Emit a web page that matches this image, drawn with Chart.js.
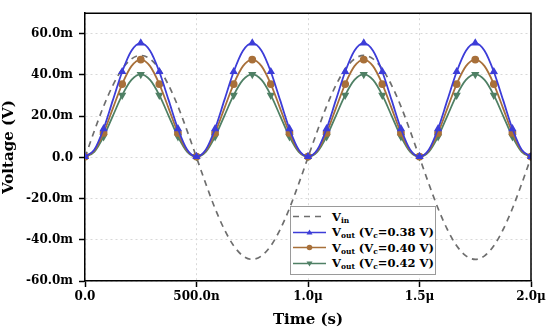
<!DOCTYPE html>
<html>
<head>
<meta charset="utf-8">
<script src="https://cdn.jsdelivr.net/npm/chart.js@4/dist/chart.umd.min.js"></script>
<style>
  html, body { margin: 0; padding: 0; background: #fff; }
  #wrap { position: relative; width: 550px; height: 331px; }
  #legend {
    position: absolute; left: 290px; top: 206px; width: 146px; height: 69px;
    border: 1px solid #9a9a9a; background: #fff; box-sizing: border-box;
    font-family: "DejaVu Serif", serif; font-weight: bold; font-size: 11.5px; color: #000;
    padding-top: 2px;
  }
  .row { display: flex; align-items: center; height: 15.5px; white-space: nowrap; }
  .row svg { margin-left: 2px; margin-right: 6px; flex: none; }
  sub { font-size: 7.5px; vertical-align: -2px; line-height: 0; }
</style>
</head>
<body>
<div id="wrap">
  <canvas id="c" width="550" height="331"></canvas>
  <div id="legend"></div>
</div>
<script>
// time in microseconds
const timeUs = [0, 0.0417, 0.0833, 0.125, 0.1667, 0.2083, 0.25, 0.2917, 0.3333, 0.375, 0.4167, 0.4583,
  0.5, 0.5417, 0.5833, 0.625, 0.6667, 0.7083, 0.75, 0.7917, 0.8333, 0.875, 0.9167, 0.9583,
  1.0, 1.0417, 1.0833, 1.125, 1.1667, 1.2083, 1.25, 1.2917, 1.3333, 1.375, 1.4167, 1.4583,
  1.5, 1.5417, 1.5833, 1.625, 1.6667, 1.7083, 1.75, 1.7917, 1.8333, 1.875, 1.9167, 1.9583, 2.0];

// voltages in mV
const vin = [0, 12.8, 24.8, 35.0, 42.9, 47.8, 49.5, 47.8, 42.9, 35.0, 24.8, 12.8,
  0, -12.8, -24.8, -35.0, -42.9, -47.8, -49.5, -47.8, -42.9, -35.0, -24.8, -12.8,
  0, 12.8, 24.8, 35.0, 42.9, 47.8, 49.5, 47.8, 42.9, 35.0, 24.8, 12.8,
  0, -12.8, -24.8, -35.0, -42.9, -47.8, -49.5, -47.8, -42.9, -35.0, -24.8, -12.8, 0];

const vout038 = [0.4, 3.7, 13.9, 27.8, 41.6, 51.8, 55.5, 51.8, 41.6, 27.8, 13.9, 3.7,
  0.4, 3.7, 13.9, 27.8, 41.6, 51.8, 55.5, 51.8, 41.6, 27.8, 13.9, 3.7,
  0.4, 3.7, 13.9, 27.8, 41.6, 51.8, 55.5, 51.8, 41.6, 27.8, 13.9, 3.7,
  0.4, 3.7, 13.9, 27.8, 41.6, 51.8, 55.5, 51.8, 41.6, 27.8, 13.9, 3.7, 0.4];

const vout040 = [0.4, 3.2, 11.9, 23.8, 35.6, 44.3, 47.5, 44.3, 35.6, 23.8, 11.9, 3.2,
  0.4, 3.2, 11.9, 23.8, 35.6, 44.3, 47.5, 44.3, 35.6, 23.8, 11.9, 3.2,
  0.4, 3.2, 11.9, 23.8, 35.6, 44.3, 47.5, 44.3, 35.6, 23.8, 11.9, 3.2,
  0.4, 3.2, 11.9, 23.8, 35.6, 44.3, 47.5, 44.3, 35.6, 23.8, 11.9, 3.2, 0.4];

const vout042 = [0.4, 2.7, 10.1, 20.2, 30.2, 37.6, 40.3, 37.6, 30.2, 20.2, 10.1, 2.7,
  0.4, 2.7, 10.1, 20.2, 30.2, 37.6, 40.3, 37.6, 30.2, 20.2, 10.1, 2.7,
  0.4, 2.7, 10.1, 20.2, 30.2, 37.6, 40.3, 37.6, 30.2, 20.2, 10.1, 2.7,
  0.4, 2.7, 10.1, 20.2, 30.2, 37.6, 40.3, 37.6, 30.2, 20.2, 10.1, 2.7, 0.4];

const xTickValues = [0, 0.5, 1.0, 1.5, 2.0];
const xTickLabels = ["0.0", "500.0n", "1.0\u03bc", "1.5\u03bc", "2.0\u03bc"];
const yTickValues = [-60, -40, -20, 0, 20, 40, 60];
const yTickLabels = ["-60.0m", "-40.0m", "-20.0m", "0.0", "20.0m", "40.0m", "60.0m"];

const seriesNames = ["V<sub>in</sub>", "V<sub>out</sub> (V<sub>c</sub>=0.38 V)", "V<sub>out</sub> (V<sub>c</sub>=0.40 V)", "V<sub>out</sub> (V<sub>c</sub>=0.42 V)"];

const COL_VIN = "#6e6e6e";
const COL_B = "#3d3dd8";
const COL_R = "#a8703a";
const COL_G = "#4f8065";

function pts(ys) { return ys.map((y, i) => ({ x: timeUs[i], y: y })); }
const markerRadius = ctx => (ctx.dataIndex % 2 === 0 ? 3 : 0);

const framePlugin = {
  id: 'frame',
  afterDraw(chart) {
    const { ctx, chartArea: a } = chart;
    ctx.save();
    ctx.strokeStyle = '#000';
    ctx.lineWidth = 1.5;
    ctx.beginPath();
    ctx.moveTo(a.left, a.top);
    ctx.lineTo(a.right, a.top);
    ctx.lineTo(a.right, a.bottom);
    ctx.stroke();
    ctx.restore();
  }
};

const tickFont = { family: "'DejaVu Serif', serif", weight: 'bold', size: 12 };
const titleFont = { family: "'DejaVu Serif', serif", weight: 'bold', size: 15 };

new Chart(document.getElementById('c'), {
  type: 'line',
  data: {
    datasets: [
      { label: 'Vin', data: pts(vin), borderColor: COL_VIN, borderWidth: 1.7, borderDash: [6, 5],
        pointRadius: 0, cubicInterpolationMode: 'monotone', order: 4 },
      { label: 'Vout 0.42', data: pts(vout042), borderColor: COL_G, backgroundColor: COL_G, borderWidth: 1.8,
        pointStyle: 'triangle', rotation: 180, pointRadius: markerRadius, cubicInterpolationMode: 'monotone', order: 3 },
      { label: 'Vout 0.40', data: pts(vout040), borderColor: COL_R, backgroundColor: COL_R, borderWidth: 1.8,
        pointStyle: 'circle', pointRadius: markerRadius, cubicInterpolationMode: 'monotone', order: 2 },
      { label: 'Vout 0.38', data: pts(vout038), borderColor: COL_B, backgroundColor: COL_B, borderWidth: 1.8,
        pointStyle: 'triangle', pointRadius: markerRadius, cubicInterpolationMode: 'monotone', order: 1 }
    ]
  },
  options: {
    responsive: false,
    animation: false,
    layout: { padding: { top: 6, right: 19, left: 0, bottom: 0 } },
    plugins: { legend: { display: false }, tooltip: { enabled: false } },
    scales: {
      x: {
        type: 'linear', min: 0, max: 2,
        afterBuildTicks: s => { s.ticks = xTickValues.map(v => ({ value: v })); },
        afterFit: s => { s.height = 50; },
        ticks: { callback: v => xTickLabels[xTickValues.indexOf(v)] ?? '', font: tickFont, color: '#000', padding: 3, maxRotation: 0 },
        grid: { color: '#d8d8d8', lineWidth: 1, tickLength: 6, tickColor: '#000', tickWidth: 1.5 },
        border: { color: '#000', width: 1.5, dash: [2, 3] },
        title: { display: true, text: 'Time (s)', font: titleFont, color: '#000', padding: { top: 0, bottom: 2 } }
      },
      y: {
        type: 'linear', min: -60, max: 70,
        afterBuildTicks: s => { s.ticks = yTickValues.map(v => ({ value: v })); },
        afterFit: s => { s.width = 85; },
        ticks: { callback: v => yTickLabels[yTickValues.indexOf(v)] ?? '', font: tickFont, color: '#000', padding: 6 },
        grid: { color: '#d8d8d8', lineWidth: 1, tickLength: 6, tickColor: '#000', tickWidth: 1.5 },
        border: { color: '#000', width: 1.5, dash: [2, 3] },
        title: { display: true, text: 'Voltage (V)', font: titleFont, color: '#000', padding: { top: 0, bottom: 4 } }
      }
    }
  },
  plugins: [framePlugin]
});

// HTML legend with subscripts
const legendSpecs = [
  { color: COL_VIN, dash: '6 5', marker: null },
  { color: COL_B, dash: null, marker: 'up' },
  { color: COL_R, dash: null, marker: 'circle' },
  { color: COL_G, dash: null, marker: 'down' }
];
const legendEl = document.getElementById('legend');
legendSpecs.forEach((s, i) => {
  const row = document.createElement('div');
  row.className = 'row';
  let m = '';
  if (s.marker === 'up') m = `<polygon points="16.5,2.5 19.5,7.5 13.5,7.5" fill="${s.color}"/>`;
  if (s.marker === 'down') m = `<polygon points="16.5,8.5 19.5,3.5 13.5,3.5" fill="${s.color}"/>`;
  if (s.marker === 'circle') m = `<circle cx="16.5" cy="5.5" r="2.8" fill="${s.color}"/>`;
  row.innerHTML = `<svg width="33" height="11"><line x1="0" y1="5.5" x2="33" y2="5.5" stroke="${s.color}" stroke-width="1.6" ${s.dash ? `stroke-dasharray="${s.dash}"` : ''}/>${m}</svg><span>${seriesNames[i]}</span>`;
  legendEl.appendChild(row);
});
</script>
</body>
</html>
